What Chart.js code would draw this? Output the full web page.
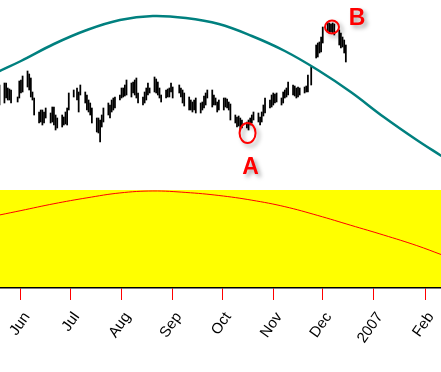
<!DOCTYPE html>
<html>
<head>
<meta charset="utf-8">
<script src="https://cdn.jsdelivr.net/npm/chart.js@4.4.1/dist/chart.umd.min.js"></script>
<style>
  html, body { margin:0; padding:0; background:#fff; }
  #wrap { position:relative; width:441px; height:372px; overflow:hidden; }
  #precio { position:absolute; left:0; top:0; }
  #osc { position:absolute; left:0; top:189px; }
</style>
</head>
<body>
<div id="wrap">
  <canvas id="precio" width="441" height="189"></canvas>
  <canvas id="osc" width="441" height="183"></canvas>
</div>
<script>
// rango de fechas de las barras (dias habiles, sin fines de semana ni feriados)
const INICIO = '2006-05-19';
const FIN = '2006-12-15';
const FERIADOS = ['2006-05-29', '2006-07-04', '2006-09-04', '2006-11-23'];

// maximos y minimos de cada barra (una por dia habil)
const maximos = [
  115,117,117,112,111,110,103,119,120,124,129,126,122,108,102,88,90,90,88,92,
  87,93,93,85,82,85,83,88,92,107,110,112,108,115,108,105,100,97,92,82,
  82,80,85,92,97,95,100,102,103,105,112,112,115,120,117,118,120,122,107,103,
  108,112,117,112,123,121,118,112,105,110,111,112,117,113,115,112,110,107,103,100,
  98,100,102,97,98,104,107,110,110,105,102,98,100,102,102,101,98,96,85,83,
  84,82,80,78,80,82,85,88,87,83,88,95,102,100,105,107,106,107,102,108,
  110,112,118,115,114,112,113,112,113,114,125,133,155,157,158,163,173,177,177,176,
  177,176,170,167,163,160,155
];
const minimos = [
  95,97,102,100,100,97,98,102,107,108,113,110,103,100,85,77,78,75,77,82,
  77,78,75,70,72,73,75,76,75,90,103,100,88,105,97,90,88,85,77,68,
  67,58,73,78,85,82,88,90,92,100,102,103,104,105,103,107,105,102,97,95,
  97,100,105,107,108,107,105,102,98,102,103,103,108,102,107,103,97,94,90,90,
  88,90,87,87,90,92,95,102,93,95,95,88,90,90,93,92,90,80,77,73,
  74,70,72,72,70,75,77,80,78,75,78,84,87,92,93,95,97,98,95,97,
  102,103,105,105,104,102,103,105,107,108,108,115,142,143,147,148,157,168,167,168,
  167,165,155,152,153,147,138
];

// curvas suaves (dias desde el 1 de junio)
const diasCurva = [-13, 0, 20, 40, 60, 80, 100, 120, 140, 160, 180, 200, 220, 240, 255];
const curvaTeal = [129, 139, 156, 170, 180, 184, 182, 176, 164, 149, 130, 108, 83, 60, 44];
const curvaRoja = [74.5, 79, 86, 92, 97, 99, 97.5, 94.4, 89.6, 83, 74, 64, 54, 43.3, 34];

// eje x: marcas al inicio de cada mes
const mesesDias = [0, 30, 61, 92, 122, 153, 183, 214, 245];
const mesesEtiquetas = ['Jun', 'Jul', 'Aug', 'Sep', 'Oct', 'Nov', 'Dec', '2007', 'Feb'];

// puntos marcados A y B
const marcasLetra = ['A', 'B'];
const marcasDia = [137.4, 188.6];
const marcasValor = [67, 173];

const X_MIN = -12.7, X_MAX = 254.7;
const FUENTE = "'Liberation Sans', Arial, sans-serif";

// --- dias habiles como numero de dias desde 2006-06-01
function diasHabiles() {
  const base = Date.UTC(2006, 5, 1);
  const out = [];
  const fin = Date.parse(FIN + 'T00:00:00Z');
  for (let t = Date.parse(INICIO + 'T00:00:00Z'); t <= fin; t += 864e5) {
    const d = new Date(t);
    const wd = d.getUTCDay();
    if (wd === 0 || wd === 6) continue;
    if (FERIADOS.includes(d.toISOString().slice(0, 10))) continue;
    out.push(Math.round((t - base) / 864e5));
  }
  return out;
}
const dias = diasHabiles();
console.log('barras:', dias.length, 'datos:', maximos.length, minimos.length);

// circulos rojos con sombra y letras A / B
const marcasPlugin = {
  id: 'marcas',
  afterDatasetsDraw(chart) {
    const { ctx, scales: { x, y } } = chart;
    ctx.save();
    ctx.shadowColor = 'rgba(0,0,0,0.35)';
    ctx.shadowBlur = 4;
    ctx.shadowOffsetX = 3;
    ctx.shadowOffsetY = 3;
    marcasLetra.forEach((letra, i) => {
      const px = x.getPixelForValue(marcasDia[i]);
      const py = y.getPixelForValue(marcasValor[i]);
      const grande = letra === 'A';
      ctx.strokeStyle = '#ff0000';
      ctx.lineWidth = 2;
      ctx.beginPath();
      ctx.ellipse(px, py, grande ? 8 : 7, grande ? 10 : 6.5, 0, 0, Math.PI * 2);
      ctx.stroke();
      ctx.fillStyle = '#ff0000';
      ctx.font = 'bold 23px ' + FUENTE;
      ctx.textAlign = 'center';
      ctx.textBaseline = 'middle';
      if (grande) ctx.fillText(letra, px + 3, py + 35);
      else ctx.fillText(letra, px + 25, py - 8);
    });
    ctx.restore();
  }
};

const fondoAmarillo = {
  id: 'fondoAmarillo',
  beforeDraw(chart) {
    const { ctx, chartArea: a } = chart;
    ctx.save();
    ctx.fillStyle = '#ffff00';
    ctx.fillRect(a.left, a.top, a.right - a.left, a.bottom - a.top);
    ctx.restore();
  }
};

// --- grafica de precios
new Chart(document.getElementById('precio'), {
  type: 'bar',
  data: {
    datasets: [
      {
        type: 'line',
        data: diasCurva.map((d, i) => ({ x: d, y: curvaTeal[i] })),
        borderColor: '#00807f',
        borderWidth: 2.5,
        pointRadius: 0,
        tension: 0.4,
        fill: false,
        order: 0
      },
      {
        type: 'bar',
        data: dias.map((d, i) => ({ x: d, y: [minimos[i], maximos[i]] })),
        backgroundColor: '#000',
        barThickness: 1.1,
        order: 1
      }
    ]
  },
  options: {
    responsive: false,
    animation: false,
    layout: { padding: 0 },
    plugins: { legend: { display: false }, tooltip: { enabled: false } },
    scales: {
      x: { type: 'linear', min: X_MIN, max: X_MAX, offset: false, display: false, grid: { offset: false } },
      y: { min: 11, max: 200, display: false }
    }
  },
  plugins: [marcasPlugin]
});

// --- oscilador (panel amarillo) y eje de fechas
new Chart(document.getElementById('osc'), {
  type: 'line',
  data: {
    datasets: [{
      data: diasCurva.map((d, i) => ({ x: d, y: curvaRoja[i] })),
      borderColor: '#ff0000',
      borderWidth: 1,
      pointRadius: 0,
      tension: 0.4,
      fill: false
    }]
  },
  options: {
    responsive: false,
    animation: false,
    layout: { padding: { top: 1, left: 0, right: 0, bottom: 0 } },
    plugins: { legend: { display: false }, tooltip: { enabled: false } },
    scales: {
      x: {
        type: 'linear', min: X_MIN, max: X_MAX,
        afterBuildTicks: (s) => { s.ticks = mesesDias.map(v => ({ value: v })); },
        afterFit: (s) => { s.height = 84; s.paddingLeft = 0; s.paddingRight = 0; },
        grid: { drawOnChartArea: false, color: '#ff0000', tickLength: 12, tickWidth: 1 },
        border: { display: true, color: '#000', width: 1.5 },
        ticks: {
          autoSkip: false, minRotation: 55, maxRotation: 55, padding: 9, labelOffset: 6,
          color: '#000', font: { family: FUENTE, size: 15 },
          callback: (v, i) => mesesEtiquetas[i]
        }
      },
      y: { display: false, min: 0, max: 100 }
    }
  },
  plugins: [fondoAmarillo]
});
</script>
</body>
</html>
